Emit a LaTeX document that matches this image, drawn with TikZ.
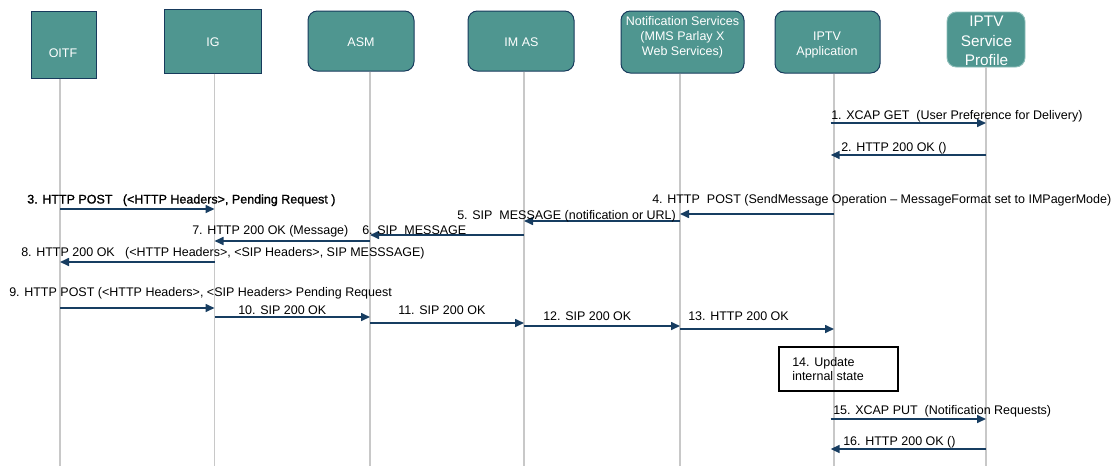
\documentclass[tikz,border=0pt]{standalone}
\usepackage{fontspec}
\setmainfont{Liberation Sans}
\newfontfamily\heavyfont[FakeBold=1.2]{Liberation Sans}
\usetikzlibrary{arrows.meta,fit,calc}
\definecolor{boxfill}{HTML}{4F9690}
\definecolor{boxline}{HTML}{173A5C}
\definecolor{spline}{HTML}{8CBDB8}
\definecolor{msgcol}{HTML}{173D61}
\definecolor{lifecol}{HTML}{C8C8C8}
\newcommand{\lblfont}{\fontsize{9.375}{11}\selectfont}
\tikzset{
  actor/.style={draw=boxline, fill=boxfill, line width=0.75pt, inner sep=0pt},
  ractor/.style={actor, rounded corners=7pt},
  boxtxt/.style={text=white, font=\lblfont, inner sep=0pt, anchor=base},
  bigtxt/.style={text=white, font=\fontsize{11.5}{13}\selectfont, inner sep=0pt, anchor=base},
  life/.style={draw=lifecol, line width=1.1pt},
  msg/.style={draw=msgcol, line width=1.2pt, -{Triangle[length=6.75pt,width=6pt]}},
  lbl/.style={anchor=base west, inner sep=0pt, font=\lblfont},
  notebox/.style={draw=black, line width=0.8pt, inner sep=0pt},
}
\begin{document}
\begin{tikzpicture}[x=0.75pt,y=-0.75pt]
\useasboundingbox (0,0) rectangle (1113,468);
% actor boxes
\node[actor, fit={(31,11) (96,78)}] (oitf) {};
\node[actor, fit={(164,9) (261,73)}] (ig) {};
\node[ractor, fit={(308,11) (414,71)}] (asm) {};
\node[ractor, fit={(468,11) (574,71)}] (imas) {};
\node[ractor, fit={(621,11) (744,73)}] (ns) {};
\node[ractor, fit={(775,11) (880,73)}] (app) {};
\node[ractor, draw=spline, line width=0.7pt, fit={(947,12) (1025,67)}] (sp) {};
% actor texts
\node[boxtxt] (oitfT) at (63,57.3) {OITF};
\node[boxtxt] (igT) at (213,46) {IG};
\node[boxtxt] (asmT) at (361,46) {ASM};
\node[boxtxt] (imasT) at (521.5,46) {IM AS};
\node[boxtxt] (nsT1) at (682.5,25) {Notification Services};
\node[boxtxt] (nsT2) at (682.5,40) {(MMS Parlay X};
\node[boxtxt] (nsT3) at (682.5,55.5) {Web Services)};
\node[boxtxt] (appT1) at (827,40) {IPTV};
\node[boxtxt] (appT2) at (827,55) {Application};
\node[bigtxt] (spT1) at (986.5,26.5) {IPTV};
\node[bigtxt] (spT2) at (986.5,46) {Service};
\node[bigtxt] (spT3) at (986.5,65) {Profile};
% lifelines
\coordinate (Loitf) at (60,466);
\coordinate (Lig) at (214.5,466);
\coordinate (Lasm) at (370,466);
\coordinate (Limas) at (524,466);
\coordinate (Lns) at (680,466);
\coordinate (Lapp) at (834,466);
\coordinate (Lsp) at (986,466);
\draw[life] (oitf.south -| Loitf) -- (Loitf);
\draw[life] (ig.south -| Lig) -- (Lig);
\draw[life] (asm.south -| Lasm) -- (Lasm);
\draw[life] (imas.south -| Limas) -- (Limas);
\draw[life] (ns.south -| Lns) -- (Lns);
\draw[life] (app.south -| Lapp) -- (Lapp);
\draw[life] (sp.south -| Lsp) -- (Lsp);
% messages
\draw[msg] ([xshift=-2.5pt]Lapp |- 0,123) -- (Lsp |- 0,123);
\node[lbl] (m1) at (831,119.5) {1. XCAP GET~~(User Preference for Delivery)};
\draw[msg] (Lsp |- 0,155) -- ([xshift=-2.5pt]Lapp |- 0,155);
\node[lbl] (m2) at (841,151) {2. HTTP 200 OK ()};
\draw[msg] (Loitf |- 0,209) -- (Lig |- 0,209);
\node[lbl, font=\lblfont\heavyfont] (m3) at (27,203.5) {3. HTTP POST~~~(<HTTP Headers>, Pending Request )};
\draw[msg] (Lapp |- 0,214) -- (Lns |- 0,214);
\node[lbl] (m4) at (652,203.5) {4. HTTP~~POST (SendMessage Operation – MessageFormat set to IMPagerMode)};
\draw[msg] (Lns |- 0,221) -- (Limas |- 0,221);
\node[lbl] (m5) at (457,219.5) {5. SIP~~MESSAGE (notification or URL)};
\draw[msg] (Limas |- 0,235) -- (Lasm |- 0,235);
\node[lbl] (m6) at (362,234) {6. SIP~~MESSAGE};
\draw[msg] (Lasm |- 0,241) -- (Lig |- 0,241);
\node[lbl] (m7) at (192,234) {7. HTTP 200 OK (Message)};
\draw[msg] (Lig |- 0,262) -- (Loitf |- 0,262);
\node[lbl] (m8) at (21,256) {8. HTTP 200 OK~~~(<HTTP Headers>, <SIP Headers>, SIP MESSSAGE)};
\draw[msg] (Loitf |- 0,308) -- (Lig |- 0,308);
\node[lbl] (m9) at (9,296.5) {9. HTTP POST (<HTTP Headers>, <SIP Headers> Pending Request};
\draw[msg] (Lig |- 0,317) -- (Lasm |- 0,317);
\node[lbl] (m10) at (238,314) {10. SIP 200 OK};
\draw[msg] (Lasm |- 0,323) -- (Limas |- 0,323);
\node[lbl] (m11) at (398,314) {11. SIP 200 OK};
\draw[msg] (Limas |- 0,326) -- (Lns |- 0,326);
\node[lbl] (m12) at (543,320.5) {12. SIP 200 OK};
\draw[msg] (Lns |- 0,329) -- (Lapp |- 0,329);
\node[lbl] (m13) at (688,320.5) {13. HTTP 200 OK};
% note
\node[notebox, fit={(779,347) (898,391)}] (upd) {};
\node[lbl] (updT1) at (792,366.7) {14. Update};
\node[lbl] (updT2) at (792,380) {internal state};
\draw[msg] ([xshift=-2.5pt]Lapp |- 0,419) -- (Lsp |- 0,419);
\node[lbl] (m15) at (833,414) {15. XCAP PUT~~(Notification Requests)};
\draw[msg] (Lsp |- 0,449) -- ([xshift=-2.5pt]Lapp |- 0,449);
\node[lbl] (m16) at (843,445) {16. HTTP 200 OK ()};
\end{tikzpicture}
\end{document}
